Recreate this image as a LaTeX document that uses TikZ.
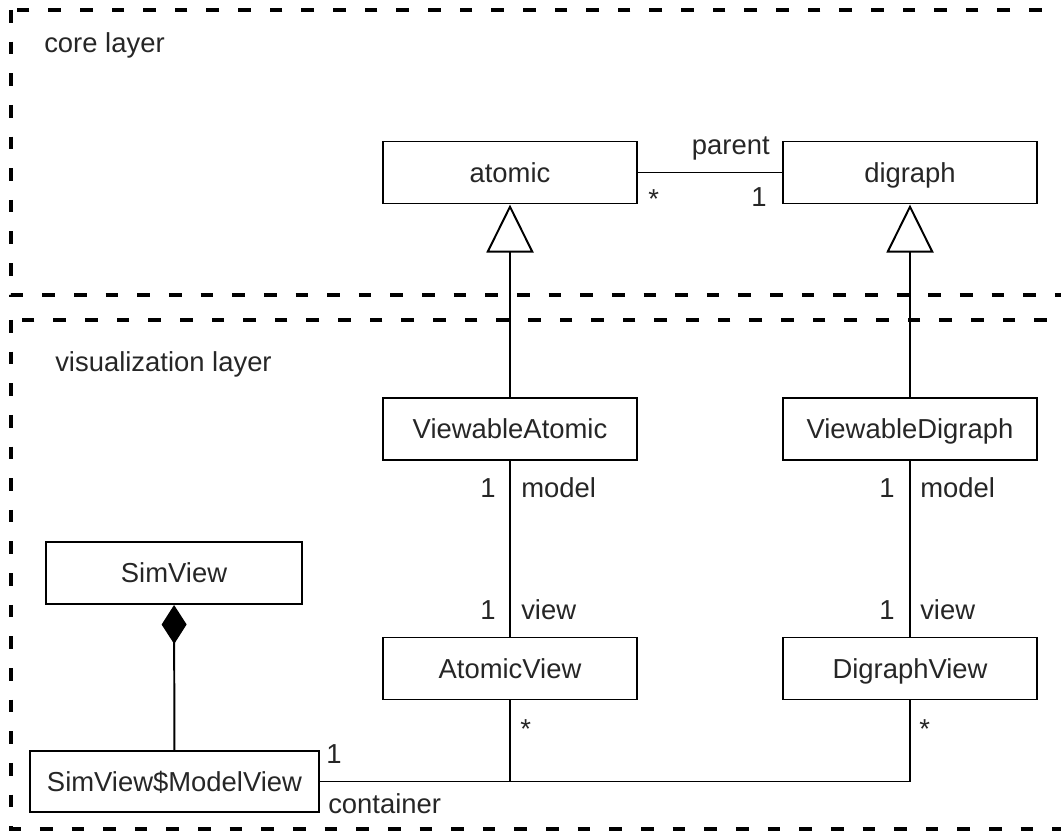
\documentclass[tikz,border=0pt]{standalone}
\usepackage{fontspec}
\setmainfont{Liberation Sans}
\usepackage{tikz}
\usetikzlibrary{arrows.meta}
\tikzset{
	umlbox/.style={draw, line width=1.4pt, inner sep=0pt, minimum width=6.35cm, minimum height=1.55cm, text height=14pt, text depth=0pt, text=black!85},
	lbl/.style={inner sep=0pt, text=black!85},
	layer/.style={line width=2.6pt, dash pattern=on 9pt off 13.5pt},
	assoc/.style={line width=1.4pt},
	gen/.style={line width=1.4pt, -{Triangle[open, width=11.75mm, length=12mm, line width=1.4pt]}},
	comp/.style={line width=1.4pt, -{Diamond[width=6.25mm, length=9.75mm]}}
}

\begin{document}
\begin{tikzpicture}[x=0.025cm, y=-0.025cm, font=\fontsize{19.5}{23}\selectfont]
			%%%%% START %%%%%
			\useasboundingbox (0, 0) rectangle (1061, 833);
			
			\draw[layer] (11, 10) rectangle (1064, 295);
			\draw[layer] (11, 320) rectangle (1064, 829);
			\node[lbl, anchor=base west] (coreLbl) at (44, 53) {core layer};
			\node[lbl, anchor=base west] (visLbl) at (55, 372) {visualization layer};
			
			\node[umlbox] (atomic) at (510, 172.5) {atomic};
			\node[umlbox] (digraph) at (910, 172.5) {digraph};
			\node[umlbox] (viewAtomic) at (510, 429) {ViewableAtomic};
			\node[umlbox] (viewDigraph) at (910, 429) {ViewableDigraph};
			\node[umlbox] (atomicView) at (510, 668.5) {AtomicView};
			\node[umlbox] (digraphView) at (910, 668.5) {DigraphView};
			\node[umlbox, minimum width=6.4cm] (simView) at (174, 573) {SimView};
			\node[umlbox, minimum width=7.225cm, minimum height=1.525cm] (modelView) at (174.5, 781.5) {SimView\$ModelView};
			
			\draw[assoc] (atomic) -- (digraph);
			\node[lbl, anchor=base west] (parentMany) at (648, 209) {*};
			\node[lbl, anchor=base east] (parentOne) at (767, 207) {1};
			\node[lbl, anchor=base east] (parentLbl) at (770, 155) {parent};
			
			\draw[gen] (viewAtomic) -- (atomic);
			\draw[gen] (viewDigraph) -- (digraph);
			
			\draw[assoc] (viewAtomic) -- (atomicView);
			\node[lbl, anchor=base east] (amOne) at (496, 497) {1};
			\node[lbl, anchor=base west] (amLbl) at (521, 497) {model};
			\node[lbl, anchor=base east] (avOne) at (496, 619) {1};
			\node[lbl, anchor=base west] (avLbl) at (521, 619) {view};
			
			\draw[assoc] (viewDigraph) -- (digraphView);
			\node[lbl, anchor=base east] (dmOne) at (895, 497) {1};
			\node[lbl, anchor=base west] (dmLbl) at (920, 497) {model};
			\node[lbl, anchor=base east] (dvOne) at (895, 619) {1};
			\node[lbl, anchor=base west] (dvLbl) at (920, 619) {view};
			
			\draw[comp] (modelView) -- (simView);
			
			\draw[assoc] (atomicView) |- (modelView.east);
			\draw[assoc] (modelView.east) -| (digraphView);
			\node[lbl, anchor=base west] (avMany) at (520, 738) {*};
			\node[lbl, anchor=base west] (dvMany) at (919, 738) {*};
			\node[lbl, anchor=base west] (contOne) at (326, 763) {1};
			\node[lbl, anchor=base west] (contLbl) at (328, 813) {container};
			%%%%% END %%%%%
\end{tikzpicture}
\end{document}
